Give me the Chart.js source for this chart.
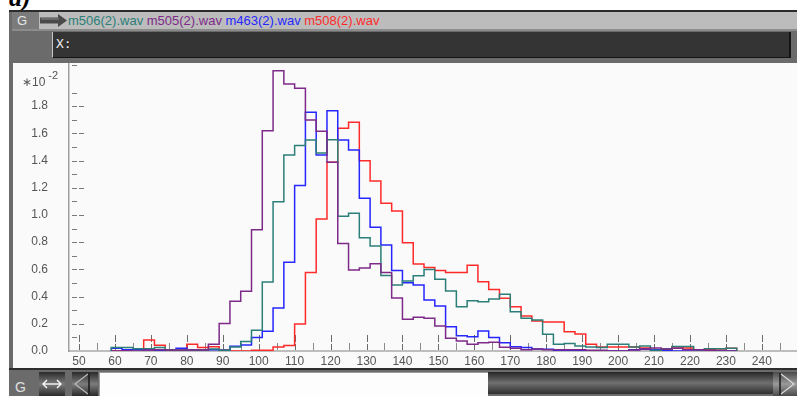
<!DOCTYPE html>
<html>
<head>
<meta charset="utf-8">
<script src="https://cdn.jsdelivr.net/npm/chart.js@4.4.0/dist/chart.umd.min.js"></script>
<style>
  html, body { margin: 0; padding: 0; background: #fff; }
  body { width: 797px; height: 396px; position: relative; overflow: hidden; font-family: "Liberation Sans", Arial, sans-serif; }
  .abs { position: absolute; }
  #caption { left: 9px; top: -15px; font: italic bold 26px/26px "Liberation Serif", serif; color: #000; }
  #win { left: 9px; top: 10px; width: 788px; height: 386px; background: #6b6b6b; }
  #winTop { left: 9px; top: 10px; width: 788px; height: 2px; background: #2b2b2b; }
  #titlebar { left: 12px; top: 12px; width: 785px; height: 17px; background: #bcbcbc; }
  #gbox { left: 12px; top: 12px; width: 27px; height: 17px; background: #7b7b7b; color: #e8e8e8; font-size: 13px; line-height: 17px; text-indent: 5px; }
  #arrow { left: 40px; top: 14px; }
  #legend { left: 68px; top: 12px; font-size: 13px; line-height: 17px; white-space: pre; }
  #titleLine { left: 12px; top: 29px; width: 785px; height: 2px; background: #8c8c8c; }
  #xbox { left: 52px; top: 32px; width: 736px; height: 25px; background: #343434; border-left: 1px solid #c8c8c8; border-bottom: 1px solid #141414; border-right: 2px solid #141414; }
  #xbox span { position: absolute; left: 3px; top: 4px; color: #ececec; font: 13px "DejaVu Sans Mono", monospace; }
  #panel { left: 13px; top: 63px; width: 784px; height: 305px; background: #fafafa; }
  #expo { left: 22px; top: 71px; font-size: 12px; color: #555; white-space: nowrap; }
  #expo sup { font-size: 11px; position: relative; top: -2px; margin-left: 3px; }
  #botLine { left: 9px; top: 368px; width: 788px; height: 2px; background: #2d2d2d; }
  #gbot { left: 15px; top: 379px; color: #e0e0e0; font-size: 14px; }
  .btn { top: 372px; width: 26px; height: 24px; background: linear-gradient(#2a2a2a, #7c7c7c 50%, #2a2a2a); }
  #btn1 { left: 39px; }
  #btn2 { left: 72px; }
  #field { left: 99px; top: 372px; width: 389px; height: 24px; background: #fdfdfd; box-shadow: inset 1px 1px 0 #9a9a9a; }
  #bar { left: 488px; top: 372px; width: 285px; height: 22px; background: linear-gradient(#262626, #707070 50%, #2e2e2e); }
  #btn3 { left: 773px; top: 372px; width: 24px; height: 24px; background: linear-gradient(#4a4a4a, #9a9a9a 50%, #4a4a4a); }
  #chartCanvas { position: absolute; left: 13px; top: 63px; }
</style>
</head>
<body>
<div class="abs" id="caption">a)</div>
<div class="abs" id="win"></div>
<div class="abs" id="winTop"></div>
<div class="abs" id="titlebar"></div>
<div class="abs" id="gbox">G</div>
<svg class="abs" id="arrow" width="28" height="13" viewBox="0 0 28 13">
  <polygon points="0,3.5 18,3.5 18,0 27,6.5 18,13 18,9.5 0,9.5" fill="#4a4a4a"/>
  <line x1="1" y1="5" x2="19" y2="5" stroke="#8a8a8a" stroke-width="1"/>
</svg>
<div class="abs" id="legend"></div>
<div class="abs" id="titleLine"></div>
<div class="abs" id="xbox"><span>X:</span></div>
<div class="abs" id="panel"></div>
<canvas id="chartCanvas" width="784" height="305"></canvas>
<div class="abs" id="expo">&lowast;10<sup>-2</sup></div>
<div class="abs" id="botLine"></div>
<div class="abs" id="gbot">G</div>
<div class="abs btn" id="btn1">
  <svg width="26" height="24" viewBox="0 0 26 24">
    <line x1="4" y1="12" x2="22" y2="12" stroke="#fff" stroke-width="1.3"/>
    <polyline points="8,8 4,12 8,16" fill="none" stroke="#fff" stroke-width="1.3"/>
    <polyline points="18,8 22,12 18,16" fill="none" stroke="#fff" stroke-width="1.3"/>
  </svg>
</div>
<div class="abs btn" id="btn2">
  <svg width="26" height="24" viewBox="0 0 26 24">
    <line x1="17" y1="1" x2="17" y2="23" stroke="#1a1a1a" stroke-width="1.5"/>
    <polyline points="16,2 3,12 16,22" fill="none" stroke="#bbb" stroke-width="1.2"/>
  </svg>
</div>
<div class="abs" id="field"></div>
<div class="abs" id="bar"></div>
<div class="abs" id="btn3">
  <svg width="24" height="24" viewBox="0 0 24 24">
    <line x1="7" y1="1" x2="7" y2="23" stroke="#1a1a1a" stroke-width="1.5"/>
    <polyline points="8,2 21,12 8,22" fill="none" stroke="#dcdcdc" stroke-width="1.2"/>
  </svg>
</div>

<script>
// ---- data (histogram, bin width 3, values in units of 1e-2) ----
const SERIES_NAMES  = ['m506(2).wav', 'm505(2).wav', 'm463(2).wav', 'm508(2).wav'];
const SERIES_COLORS = ['#2b7f78', '#7d2a88', '#2626ff', '#ff2a2a'];

const BIN_EDGES = [59, 62, 65, 68, 71, 74, 77, 80, 83, 86, 89, 92, 95, 98, 101, 104, 107, 110, 113, 116,
                   119, 122, 125, 128, 131, 134, 137, 140, 143, 146, 149, 152, 155, 158, 161, 164, 167, 170, 173, 176,
                   179, 182, 185, 188, 191, 194, 197, 200, 203, 206, 209, 212, 215, 218, 221, 224, 227, 230, 233];

const M506 = [0.025, 0.025, 0.017, 0.017, 0.025, 0.010, 0.007, 0.007, 0.007, 0.015,
              0.005, 0.030, 0.070, 0.152, 0.508, 1.098, 1.441, 1.510, 1.551, 1.455,
              1.553, 0.990, 1.012, 0.832, 0.772, 0.555, 0.485, 0.515, 0.554, 0.600,
              0.527, 0.441, 0.326, 0.370, 0.363, 0.382, 0.417, 0.289, 0.240, 0.228,
              0.123, 0.049, 0.056, 0.037, 0.030, 0.025, 0.049, 0.049, 0.030, 0.037,
              0.005, 0.017, 0.034, 0.034, 0.010, 0.017, 0.017, 0.020];

const M505 = [0, 0, 0, 0.007, 0.010, 0.007, 0.007, 0.007, 0.007, 0.050,
              0.203, 0.365, 0.440, 0.892, 1.620, 2.060, 1.963, 1.931, 1.699, 1.615,
              1.387, 0.790, 0.596, 0.610, 0.642, 0.577, 0.390, 0.233, 0.248, 0.240,
              0.184, 0.093, 0.074, 0.049, 0.061, 0.064, 0.027, 0.020, 0.010, 0.015,
              0.010, 0.010, 0.010, 0.010, 0.005, 0.005, 0, 0, 0.007, 0.015,
              0.022, 0.015, 0.020, 0.010, 0.010, 0.005, 0, 0];

const M463 = [0.020, 0.010, 0.010, 0.010, 0.005, 0.010, 0.020, 0.005, 0.005, 0.010,
              0.005, 0.035, 0.045, 0.100, 0.145, 0.317, 0.652, 1.216, 1.755, 1.441,
              1.767, 1.551, 1.478, 1.123, 0.909, 0.779, 0.591, 0.502, 0.485, 0.375,
              0.331, 0.179, 0.113, 0.105, 0.147, 0.100, 0.061, 0.032, 0.025, 0.015,
              0.012, 0.005, 0.005, 0.005, 0, 0, 0, 0, 0.010, 0.012,
              0.010, 0.005, 0, 0, 0, 0, 0, 0];

const M508 = [0, 0.005, 0.015, 0.081, 0.042, 0.007, 0.003, 0.049, 0.025, 0.032,
              0.007, 0, 0, 0.005, 0.005, 0.030, 0.040, 0.199, 0.578, 0.971,
              1.387, 1.637, 1.681, 1.399, 1.250, 1.086, 1.029, 0.796, 0.640, 0.613,
              0.591, 0.578, 0.578, 0.630, 0.510, 0.453, 0.387, 0.326, 0.257, 0.220,
              0.213, 0.213, 0.142, 0.125, 0.049, 0.030, 0.030, 0.030, 0.030, 0.022,
              0.010, 0.010, 0.030, 0.022, 0.010, 0.010, 0.015, 0.020];

const X_TICKS = [50, 60, 70, 80, 90, 100, 110, 120, 130, 140, 150, 160, 170, 180, 190, 200, 210, 220, 230, 240];
const Y_TICKS = [0, 0.2, 0.4, 0.6, 0.8, 1.0, 1.2, 1.4, 1.6, 1.8];

const X_MIN = 47.22, X_MAX = 249.78;
const Y_MIN = 0, Y_MAX = 2.11;

// legend in the title bar
const legendEl = document.getElementById('legend');
SERIES_NAMES.forEach((n, i) => {
    const s = document.createElement('span');
    s.textContent = n + (i < SERIES_NAMES.length - 1 ? ' ' : '');
    s.style.color = SERIES_COLORS[i];
    legendEl.appendChild(s);
});

function histPoints(values) {
    const pts = [{ x: BIN_EDGES[0], y: 0 }];
    values.forEach((v, i) => pts.push({ x: BIN_EDGES[i], y: v }));
    pts.push({ x: BIN_EDGES[values.length], y: 0 });
    return pts;
}

// small inward tick marks like the original plot
const tickMarks = {
    id: 'tickMarks',
    beforeDatasetsDraw(chart) {
        const { ctx, chartArea: a, scales: { x, y } } = chart;
        ctx.save();
        ctx.lineWidth = 1;
        // y: major every 0.2, minor every 0.1
        for (let i = 1; i <= 21; i++) {
            if (i === 20) continue;
            const py = Math.round(y.getPixelForValue(i / 10)) + 0.5;
            const major = i % 2 === 0;
            ctx.strokeStyle = '#7a7a7a';
            ctx.setLineDash(major ? [5, 2] : []);
            ctx.beginPath();
            ctx.moveTo(a.left + 3, py);
            ctx.lineTo(a.left + (major ? 15 : 8), py);
            ctx.stroke();
        }
        // x: tall every 10, short every 5
        for (let v = 50; v <= 245; v += 5) {
            const px = Math.round(x.getPixelForValue(v)) + 0.5;
            const major = v % 10 === 0;
            ctx.strokeStyle = major ? '#6a6a6a' : '#8a8a8a';
            ctx.setLineDash(major ? [7, 2] : []);
            ctx.beginPath();
            ctx.moveTo(px, a.bottom - (major ? 16 : 8));
            ctx.lineTo(px, a.bottom - 1);
            ctx.stroke();
        }
        ctx.restore();
    }
};

const datasets = [M506, M505, M463, M508].map((vals, i) => ({
    label: SERIES_NAMES[i],
    data: histPoints(vals),
    borderColor: SERIES_COLORS[i],
    borderWidth: 1.5,
    pointRadius: 0,
    fill: false,
    stepped: 'before',
    order: [1, 0, 2, 3][i]
}));

new Chart(document.getElementById('chartCanvas'), {
    type: 'line',
    data: { datasets },
    options: {
        responsive: false,
        animation: false,
        layout: { padding: { top: 1, right: 0, left: 0, bottom: 0 } },
        plugins: { legend: { display: false }, tooltip: { enabled: false } },
        scales: {
            x: {
                type: 'linear',
                min: X_MIN, max: X_MAX,
                afterFit: s => { s.height = 17; s.paddingLeft = 0; s.paddingRight = 0; },
                afterBuildTicks: s => { s.ticks = X_TICKS.map(v => ({ value: v })); },
                grid: { display: false, drawTicks: false },
                border: { display: true, color: '#bdbdbd', width: 2 },
                ticks: {
                    autoSkip: false, maxRotation: 0, padding: 3,
                    color: '#555', font: { family: 'Liberation Sans', size: 12 },
                    callback: v => String(v)
                }
            },
            y: {
                type: 'linear',
                min: Y_MIN, max: Y_MAX,
                // keep label padding from shrinking the plot vertically
                afterFit: s => { s.width = 56; s.paddingTop = 0; s.paddingBottom = 0; },
                afterBuildTicks: s => { s.ticks = Y_TICKS.map(v => ({ value: v })); },
                grid: { display: false, drawTicks: false },
                border: { display: true, color: '#a0a0a0', width: 1.5 },
                ticks: {
                    padding: 21,
                    color: '#555', font: { family: 'Liberation Sans', size: 12 },
                    callback: v => v.toFixed(1)
                }
            }
        }
    },
    plugins: [tickMarks]
});
</script>
</body>
</html>
